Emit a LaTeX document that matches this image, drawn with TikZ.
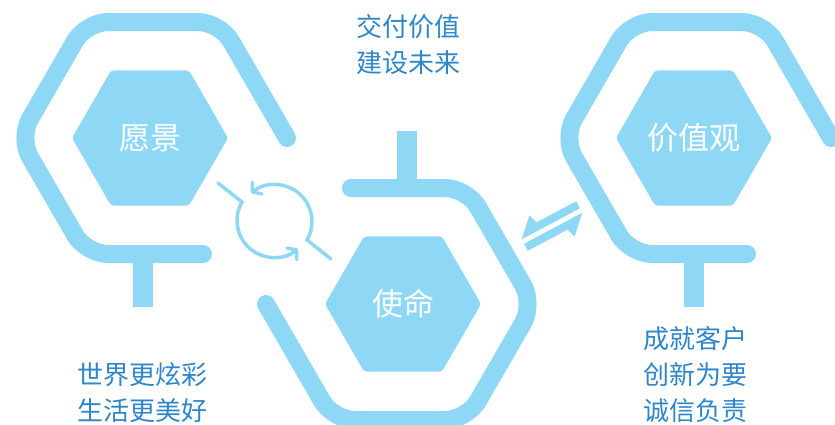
\documentclass[tikz,border=0pt]{standalone}
\usepackage{fontspec}
\setmainfont{Noto Sans CJK SC}
\usepackage{tikz}
\usetikzlibrary{shapes.geometric,arrows.meta}
\definecolor{sky}{HTML}{8ED8F6}
\definecolor{ink}{HTML}{2E86C8}

\begin{document}
\begin{tikzpicture}[x=1pt, y=-1pt,
  ring/.style={draw=sky, line width=18pt, line cap=round, rounded corners=22pt},
  core/.style={regular polygon, regular polygon sides=6, minimum size=156pt, inner sep=0pt, fill=sky, text=white, font=\fontsize{31}{31}\selectfont, rounded corners=3pt},
  words/.style={text=ink, align=center, font=\fontsize{26}{36}\selectfont},
  turn/.style={draw=sky, line width=3.5pt, line cap=round, -{Straight Barb[length=6pt,width=15pt,round]}}]

\useasboundingbox (0,0) rectangle (835,424);

% outer rings
\draw[ring] (203,254) -- (86,254) -- (19,138) -- (86,22) -- (220,22) -- (287,138);
\draw[ring] (351,188) -- (467,188) -- (534,304) -- (467,420) -- (333,420) -- (266,304);
\draw[ring] (747,254) -- (630,254) -- (563,138) -- (630,22) -- (764,22) -- (831,138);

% stems
\fill[sky] (133,254) rectangle (153,307);
\fill[sky] (397,131) rectangle (417,188);
\fill[sky] (684,254) rectangle (704,307);

\node[core] (vision) at (150,138) {愿景};
\node[core] (mission) at (403,304) {使命};
\node[core] (values) at (694,138) {价值观};

\node[words] (goal) at (142,393) {世界更炫彩\\生活更美好};
\node[words] (deliver) at (408,45) {交付价值\\建设未来};
\node[words] (creed) at (695,375) {成就客户\\创新为要\\诚信负责};

% cycle
\coordinate (loop) at (274.5,221);
\draw[turn] (218,183) -- (242,202) arc[start angle=210, end angle=50, radius=37];
\draw[turn] (331,259) -- (307,240) arc[start angle=30, end angle=-130, radius=37];

% exchange
\begin{scope}[shift={(552,226)}, rotate=28]
\fill[sky] (33,-2.5) -- (33,-10.5) -- (-12,-10.5) -- (-15,-20) -- (-33,-2.5) -- cycle;
\fill[sky] (-33,2.5) -- (-33,10.5) -- (12,10.5) -- (15,20) -- (33,2.5) -- cycle;
\end{scope}

\end{tikzpicture}
\end{document}
